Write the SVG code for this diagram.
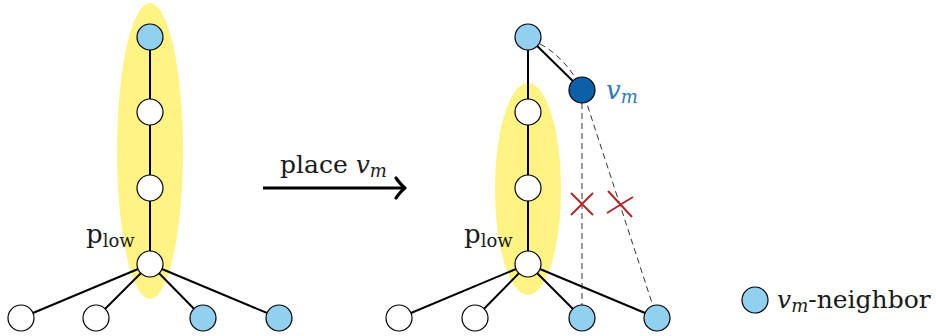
<svg xmlns="http://www.w3.org/2000/svg" width="936" height="336" viewBox="0 0 936 336">
<style>
.n{stroke:#000;stroke-width:1.2}
.w{fill:#fff}
.b{fill:#92d0f0}
.e{stroke:#000;stroke-width:2;fill:none}
.d{stroke:#333;stroke-width:1;stroke-dasharray:6,4;fill:none}
.x{stroke:#b0282a;stroke-width:2;fill:none}
.t{fill:#1a1a1a}
.hl{fill:#fff383}
</style>
<rect width="936" height="336" fill="#fff"/>
<g id="highlights">
<ellipse class="hl" cx="150" cy="151" rx="33" ry="148"/>
<ellipse class="hl" cx="528" cy="189" rx="33" ry="106"/>
</g>
<g id="connectors">
<line class="e" x1="150" y1="37" x2="150" y2="264"/>
<line class="e" x1="150" y1="264" x2="21" y2="318"/>
<line class="e" x1="150" y1="264" x2="96" y2="318"/>
<line class="e" x1="150" y1="264" x2="203" y2="318"/>
<line class="e" x1="150" y1="264" x2="279" y2="318"/>
<line class="e" x1="528" y1="37" x2="528" y2="264"/>
<line class="e" x1="528" y1="37" x2="582" y2="90"/>
<line class="e" x1="528" y1="264" x2="399" y2="318"/>
<line class="e" x1="528" y1="264" x2="475" y2="318"/>
<line class="e" x1="528" y1="264" x2="582" y2="318"/>
<line class="e" x1="528" y1="264" x2="657" y2="318"/>
<line class="d" x1="582" y1="103" x2="582" y2="306"/>
<path class="d" d="M540 44 C560 54 580 78 587 104 L653 306"/>
<path class="x" d="M571 193 L593 215 M593 193 L571 215"/>
<path class="x" d="M608 191 L632 217 M607 213 L633 197"/>
<g id="arrow">
<line x1="263" y1="188" x2="403" y2="188" stroke="#000" stroke-width="3.2"/>
<path d="M396 178 Q401 185 405 188 Q401 191 396 198" stroke="#000" stroke-width="3.2" fill="none" stroke-linecap="round" stroke-linejoin="round"/>
</g>
</g>
<g id="left-n1"><circle class="n b" cx="150" cy="37" r="13"/></g>
<g id="left-n2"><circle class="n w" cx="150" cy="112" r="13"/></g>
<g id="left-n3"><circle class="n w" cx="150" cy="188" r="13"/></g>
<g id="left-plow"><circle class="n w" cx="150" cy="264" r="13"/>
<text class="t" font-family="DejaVu Serif, serif" x="86" y="243" font-size="26">p<tspan font-size="18" dy="4">low</tspan></text></g>
<g id="left-b1"><circle class="n w" cx="21" cy="318" r="13"/></g>
<g id="left-b2"><circle class="n w" cx="96" cy="318" r="13"/></g>
<g id="left-b3"><circle class="n b" cx="203" cy="318" r="13"/></g>
<g id="left-b4"><circle class="n b" cx="279" cy="318" r="13"/></g>
<g id="place-label"><text class="t" font-family="DejaVu Serif, serif" x="280" y="173" font-size="25">place <tspan font-style="italic">v</tspan><tspan font-style="italic" font-size="18" dy="4">m</tspan></text></g>
<g id="right-n1"><circle class="n b" cx="528" cy="37" r="13"/></g>
<g id="right-n2"><circle class="n w" cx="528" cy="112" r="13"/></g>
<g id="right-n3"><circle class="n w" cx="528" cy="188" r="13"/></g>
<g id="right-plow"><circle class="n w" cx="528" cy="264" r="13"/>
<text class="t" font-family="DejaVu Serif, serif" x="464" y="243" font-size="26">p<tspan font-size="18" dy="4">low</tspan></text></g>
<g id="right-b1"><circle class="n w" cx="399" cy="318" r="13"/></g>
<g id="right-b2"><circle class="n w" cx="475" cy="318" r="13"/></g>
<g id="right-b3"><circle class="n b" cx="582" cy="318" r="13"/></g>
<g id="right-b4"><circle class="n b" cx="657" cy="318" r="13"/></g>
<g id="vm"><circle class="n" cx="582" cy="90" r="13" fill="#0b60a8"/>
<text font-family="DejaVu Serif, serif" x="606" y="99" font-size="26" font-style="italic" fill="#2b7bc4">v<tspan font-size="18" dy="4">m</tspan></text></g>
<g id="legend"><circle class="n b" cx="755" cy="300" r="13"/>
<text class="t" font-family="DejaVu Serif, serif" x="777" y="308" font-size="25"><tspan font-style="italic">v</tspan><tspan font-style="italic" font-size="18" dy="4">m</tspan><tspan dy="-4">-neighbor</tspan></text></g>
</svg>
